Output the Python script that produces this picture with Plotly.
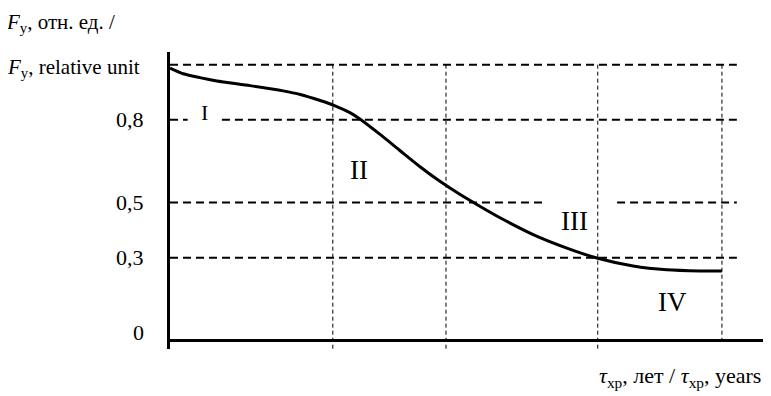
import plotly.graph_objects as go

# ---- data ----
storage_time = [0, 2.4, 5.4, 8.5, 14.5, 20.5, 23.6, 27.2, 29.9, 32.6, 34.4, 38.0, 41.7,
                45.3, 48.9, 52.5, 56.2, 59.8, 65.8, 71.9, 77.5, 83.9, 90.0, 96.0, 100.0]
relative_force = [0.988, 0.967, 0.953, 0.941, 0.924, 0.905, 0.892, 0.870, 0.851, 0.826, 0.803,
                  0.748, 0.688, 0.630, 0.577, 0.530, 0.486, 0.445, 0.384, 0.335, 0.298,
                  0.270, 0.256, 0.252, 0.252]

stage_bounds = [29.5, 50.0, 77.5, 100.0]
levels = [1.0, 0.8, 0.5, 0.3]
tick_vals = [0, 0.3, 0.5, 0.8]
tick_text = ["0", "0,3", "0,5", "0,8"]
stage_labels = ["I", "II", "III", "IV"]
stage_label_x = [6.3, 34.2, 73.2, 91.1]
stage_label_y = [0.825, 0.618, 0.434, 0.140]

X_MAX = 107.8
Y_MIN, Y_MAX = -0.031, 1.046
LEVEL_END = 102.7
FONT = "Liberation Serif, Times New Roman, serif"

# the page body has an 8px margin, so the figure is drawn 8px smaller
W, H = 763, 388
L, T, R, B = 162, 44, 6, 47
PW = W - L - R
PH = H - T - B

fig = go.Figure()

fig.add_trace(go.Scatter(
    x=storage_time, y=relative_force, mode="lines",
    line=dict(color="black", width=3, shape="spline", smoothing=0.6),
    hoverinfo="skip", showlegend=False,
))

shapes = []
gaps = {0.8: (3.2, 9.4), 0.5: (68.3, 81.0)}
for lv in levels:
    if lv in gaps:
        segs = [(0, gaps[lv][0]), (gaps[lv][1], LEVEL_END)]
    else:
        segs = [(0, LEVEL_END)]
    for a, b in segs:
        shapes.append(dict(type="line", xref="x", yref="y", x0=a, x1=b, y0=lv, y1=lv,
                           line=dict(color="black", width=2, dash="8px,5px")))
for i, xb in enumerate(stage_bounds):
    y_bottom = 0 if i == len(stage_bounds) - 1 else Y_MIN
    shapes.append(dict(type="line", xref="x", yref="y", x0=xb, x1=xb, y0=levels[0], y1=y_bottom,
                       line=dict(color="black", width=1, dash="4px,3px")))
shapes.append(dict(type="line", xref="paper", yref="y", x0=-0.004, x1=1, y0=0, y1=0,
                   line=dict(color="black", width=3)))

annotations = []
for v, t in zip(tick_vals, tick_text):
    annotations.append(dict(x=0, xref="paper", y=v, yref="y", text=t, showarrow=False,
                            xanchor="right", yanchor="middle", xshift=-24,
                            yshift=8 if v == 0 else 0,
                            font=dict(family=FONT, size=22, color="black")))
for lab, lx, ly in zip(stage_labels, stage_label_x, stage_label_y):
    annotations.append(dict(x=lx, y=ly, xref="x", yref="y", text=lab, showarrow=False,
                            xanchor="center", yanchor="middle",
                            font=dict(family=FONT, size=22 if lab == "I" else 27, color="black")))

def px_x(px):
    return (px - 8 - L) / PW

def px_y(py):
    return (H - B - (py - 8)) / PH

annotations.append(dict(x=px_x(5), y=px_y(9), xref="paper", yref="paper",
                        text="<i>F</i><sub>у</sub>, отн. ед. /", showarrow=False,
                        xanchor="left", yanchor="top", borderpad=0,
                        font=dict(family=FONT, size=21, color="black")))
annotations.append(dict(x=px_x(5), y=px_y(68), xref="paper", yref="paper",
                        text="<i>F</i><sub>у</sub>, relative unit", showarrow=False,
                        xanchor="left", yanchor="middle",
                        font=dict(family=FONT, size=21, color="black")))
annotations.append(dict(x=px_x(762), y=px_y(377), xref="paper", yref="paper",
                        text="<i>τ</i><sub>хр</sub>, лет / <i>τ</i><sub>хр</sub>, years",
                        showarrow=False, xanchor="right", yanchor="middle", borderpad=0,
                        font=dict(family=FONT, size=22, color="black")))

fig.update_layout(
    width=W, height=H,
    margin=dict(l=L, r=R, t=T, b=B),
    paper_bgcolor="white", plot_bgcolor="white",
    shapes=shapes, annotations=annotations,
    xaxis=dict(range=[0, X_MAX], showgrid=False, zeroline=False, showline=False,
               showticklabels=False, ticks="", fixedrange=True),
    yaxis=dict(range=[Y_MIN, Y_MAX], showgrid=False, zeroline=False, showline=True,
               linecolor="black", linewidth=3, showticklabels=False, ticks="",
               fixedrange=True),
    font=dict(family=FONT, color="black"),
)

fig.write_html("out.html")
